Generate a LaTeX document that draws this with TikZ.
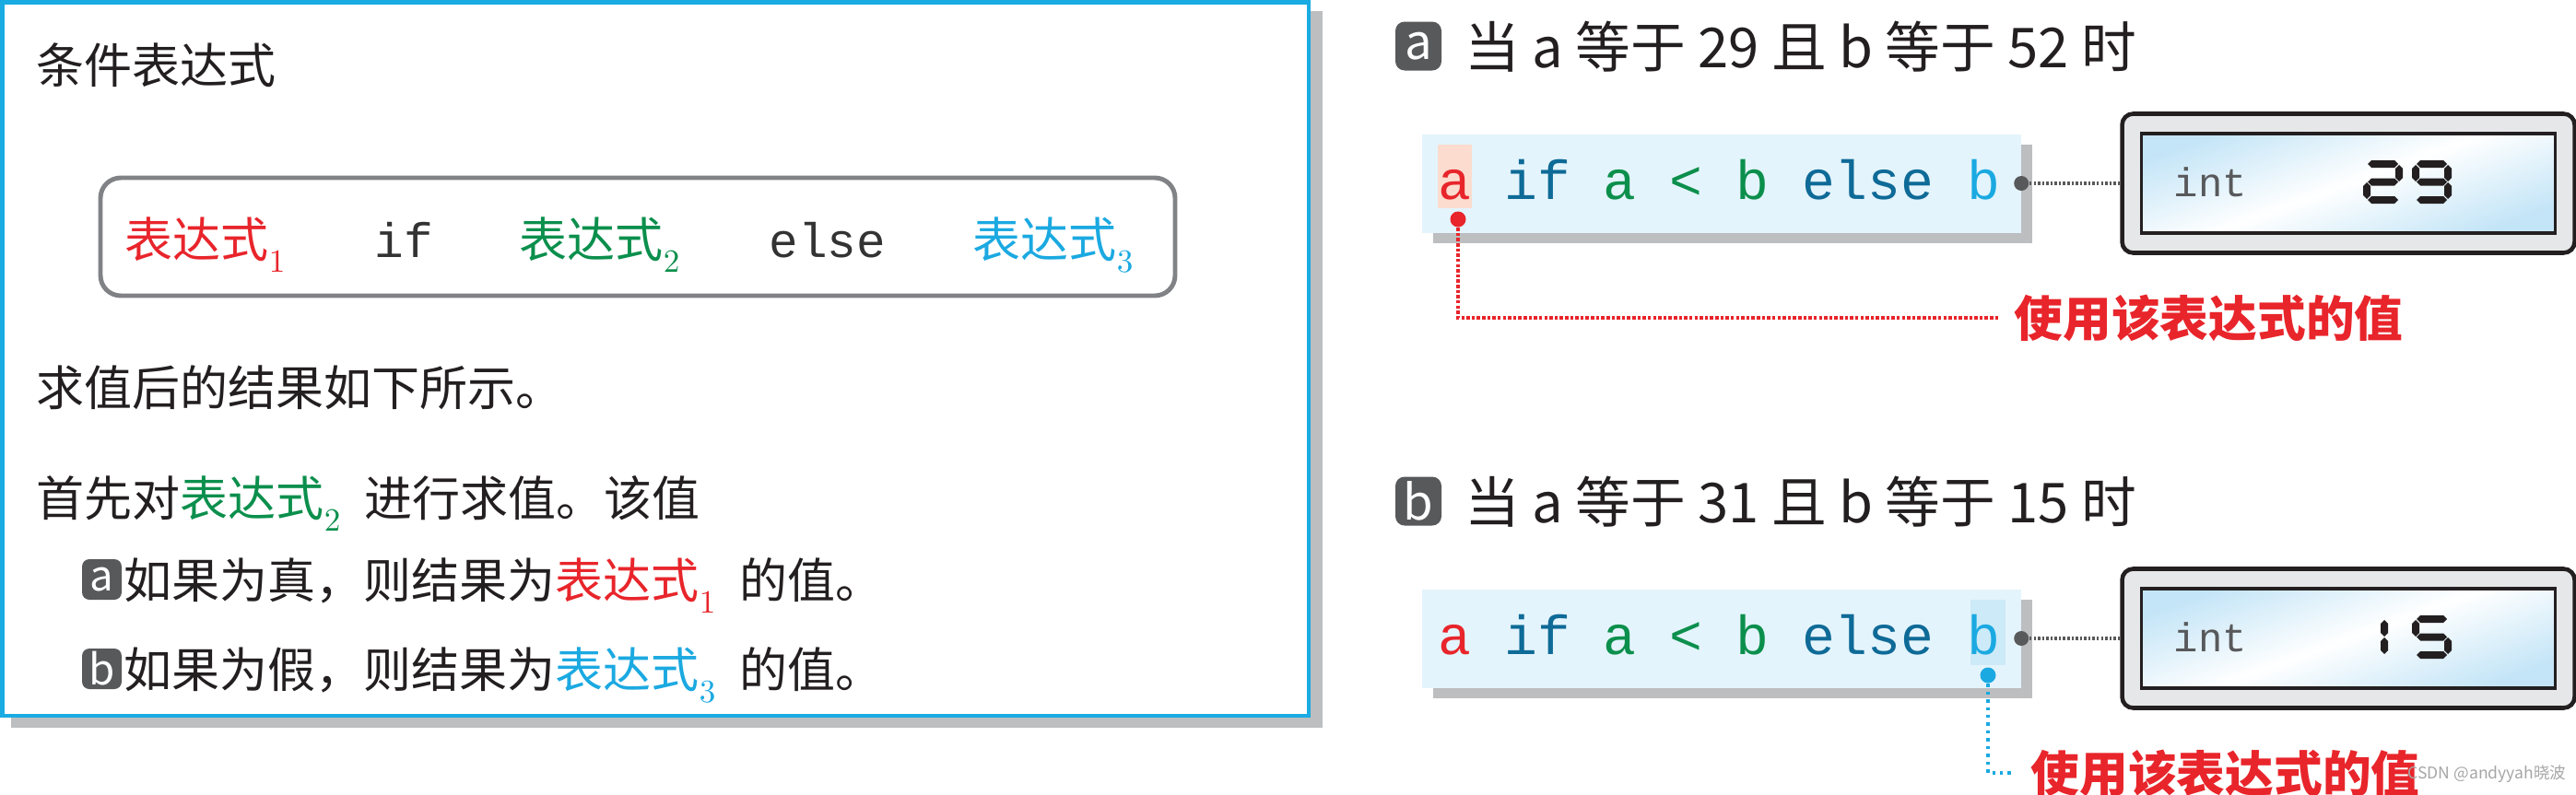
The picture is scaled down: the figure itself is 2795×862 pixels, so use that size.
\documentclass[tikz,border=0pt]{standalone}
\usepackage[no-math]{fontspec}
\setmainfont{Noto Sans CJK SC}
\setmonofont{Liberation Mono}
\usepackage{tikz}
\usetikzlibrary{calc,shadows}
\definecolor{ink}{HTML}{231F20}
\definecolor{panelblue}{HTML}{1AABE2}
\definecolor{shadowgray}{HTML}{BCBEC0}
\definecolor{boxgray}{HTML}{808285}
\definecolor{taggray}{HTML}{58595B}
\definecolor{kwgray}{HTML}{333333}
\definecolor{exred}{HTML}{E8252B}
\definecolor{exgreen}{HTML}{0B8F4C}
\definecolor{excyan}{HTML}{1BA9E1}
\definecolor{kwblue}{HTML}{0E6A97}
\definecolor{codebg}{HTML}{E4F4FC}
\definecolor{pinkhl}{HTML}{FCDCCE}
\definecolor{cyanhl}{HTML}{CDEAF8}
\definecolor{lcdgray}{HTML}{E6E7E8}
\definecolor{lcdblue}{HTML}{C4E5F7}
\tikzset{
  panel/.style={draw=panelblue, line width=1.4pt, fill=white},
  exprbox/.style={draw=boxgray, line width=1.4pt, rounded corners=2.2mm, minimum width=116.6mm, minimum height=12.8mm, inner sep=0},
  txt/.style={anchor=base west, inner sep=0, text=ink, font=\fontsize{14.8}{18}\selectfont},
  kw/.style={anchor=base west, inner sep=0, text=kwgray, font=\ttfamily\fontsize{15}{18}\selectfont},
  head/.style={anchor=base west, inner sep=0, text=ink, font=\fontsize{17}{20}\selectfont},
  tag/.style={fill=taggray, text=white, rounded corners=1mm, inner sep=0, minimum width=5mm, minimum height=5.3mm, font=\fontsize{15}{15}\selectfont},
  tagsm/.style={tag, rounded corners=0.8mm, minimum width=4.3mm, minimum height=4.4mm, font=\fontsize{13}{13}\selectfont},
  codebox/.style={fill=codebg, minimum width=65mm, minimum height=10.7mm, inner sep=0,
    drop shadow={shadow xshift=1.2mm, shadow yshift=-1.1mm, fill=shadowgray, opacity=1}},
  code/.style={anchor=base west, inner sep=0, font=\ttfamily\fontsize{17}{20}\selectfont},
  enddot/.style={circle, fill=taggray, inner sep=0, minimum size=1.6mm},
  pick/.style={circle, inner sep=0, minimum size=1.7mm},
  link/.style={draw=taggray, line width=0.9pt, dash pattern=on 0.7pt off 0.6pt},
  redlink/.style={draw=exred, line width=1.3pt, dash pattern=on 1pt off 0.6pt},
  cyanlink/.style={draw=excyan, line width=1.3pt, dash pattern=on 1pt off 1.4pt},
  uselab/.style={anchor=base west, inner sep=0, text=exred, font=\bfseries\fontsize{15}{18}\selectfont},
  lcdcase/.style={draw=ink, line width=1.3pt, fill=lcdgray, rounded corners=1.2mm, minimum width=49.1mm, minimum height=15.1mm, inner sep=0},
  lcdglass/.style={draw=ink, line width=0.9pt, top color=lcdblue, bottom color=lcdblue, middle color=white, shading angle=20, minimum width=44.9mm, minimum height=10.8mm, inner sep=0},
  lcdtype/.style={anchor=base west, inner sep=0, text=taggray, font=\ttfamily\fontsize{12.5}{14}\selectfont},
  lcdink/.style={fill=ink},
}
\newcommand{\subnum}[1]{\raisebox{-0.32em}{$\scriptstyle #1$}}
% seven-segment pieces, y runs downwards
\newcommand{\lcdsegA}{\fill[lcdink] (5,4) -- (9,0) -- (34,0) -- (38,4) -- (34,8) -- (9,8) -- cycle;}
\newcommand{\lcdsegG}{\fill[lcdink] (5,23.5) -- (9,19.5) -- (34,19.5) -- (38,23.5) -- (34,27.5) -- (9,27.5) -- cycle;}
\newcommand{\lcdsegD}{\fill[lcdink] (5,43) -- (9,39) -- (34,39) -- (38,43) -- (34,47) -- (9,47) -- cycle;}
\newcommand{\lcdsegB}{\fill[lcdink] (39,5) -- (43,9) -- (43,19) -- (39,23) -- (35,19) -- (35,9) -- cycle;}
\newcommand{\lcdsegC}{\fill[lcdink] (39,24) -- (43,28) -- (43,38) -- (39,42) -- (35,38) -- (35,28) -- cycle;}
\newcommand{\lcdsegE}{\fill[lcdink] (4,24) -- (8,28) -- (8,38) -- (4,42) -- (0,38) -- (0,28) -- cycle;}
\newcommand{\lcdsegF}{\fill[lcdink] (4,5) -- (8,9) -- (8,19) -- (4,23) -- (0,19) -- (0,9) -- cycle;}
\newcommand{\lcddigit}[3]{\begin{scope}[shift={(#1,#2)}]\foreach \s in {#3}{\csname lcdseg\s\endcsname}\end{scope}}

\begin{document}
\begin{tikzpicture}[x=0.1mm, y=-0.1mm]
  \useasboundingbox (0,0) rectangle (2795,862);
  % left panel
  \fill[shadowgray] (12,12) rectangle (1435,790);
  \draw[panel] (2.5,2.5) rectangle (1420,777);
  \node[txt] (title) at (39,90) {条件表达式};
  \node[exprbox] (expr) at (692,257) {};
  \node[txt, text=exred] (e1) at (135,279) {表达式\subnum{1}};
  \node[kw] (kwif) at (406,279) {if};
  \node[txt, text=exgreen] (e2) at (563,279) {表达式\subnum{2}};
  \node[kw] (kwelse) at (834,279) {else};
  \node[txt, text=excyan] (e3) at (1055,279) {表达式\subnum{3}};
  \node[txt] (result) at (39,440) {求值后的结果如下所示。};
  \node[txt] (first) at (39,560) {首先对\textcolor{exgreen}{表达式\subnum{2}}\hspace{0.5em}进行求值。该值};
  \node[tagsm] (tagLa) at (110.5,629) {a};
  \node[txt] (caseA) at (134,649) {如果为真，则结果为\textcolor{exred}{表达式\subnum{1}}\hspace{0.5em}的值。};
  \node[tagsm] (tagLb) at (110.5,726) {b};
  \node[txt] (caseB) at (134,746) {如果为假，则结果为\textcolor{excyan}{表达式\subnum{3}}\hspace{0.5em}的值。};

  % case a
  \node[tag] (tagA) at (1539,50) {a};
  \node[head] (headA) at (1589,73) {当 a 等于 29 且 b 等于 52 时};
  \node[codebox] (boxA) at (1867.5,199) {};
  \fill[pinkhl] (1560,157) rectangle (1597,226);
  \node[code] (codeA) at (1560,216) {\textcolor{exred}{a} \textcolor{kwblue}{if} \textcolor{exgreen}{a < b} \textcolor{kwblue}{else} \textcolor{excyan}{b}};
  \node[enddot] (endA) at (boxA.east) {};
  \node[lcdcase] (lcdA) at (2548,199) {};
  \node[lcdglass] (glassA) at (lcdA) {};
  \draw[link] (endA) -- (lcdA.west);
  \node[lcdtype] (typeA) at (2358,213) {int};
  \lcddigit{2564}{174}{A,B,G,E,D}
  \lcddigit{2617}{174}{A,B,C,D,F,G}
  \node[pick, fill=exred] (pickA) at (1582,238) {};
  \node[uselab] (useA) at (2185,365) {使用该表达式的值};
  \draw[redlink] (pickA) |- ($(useA.west)+(-16,0)$);

  % case b
  \node[tag] (tagB) at (1539,544) {b};
  \node[head] (headB) at (1589,567) {当 a 等于 31 且 b 等于 15 时};
  \node[codebox] (boxB) at (1867.5,693) {};
  \fill[cyanhl] (2138,651) rectangle (2176,722);
  \node[code] (codeB) at (1560,710) {\textcolor{exred}{a} \textcolor{kwblue}{if} \textcolor{exgreen}{a < b} \textcolor{kwblue}{else} \textcolor{excyan}{b}};
  \node[enddot] (endB) at (boxB.east) {};
  \node[lcdcase] (lcdB) at (2548,693) {};
  \node[lcdglass] (glassB) at (lcdB) {};
  \draw[link] (endB) -- (lcdB.west);
  \node[lcdtype] (typeB) at (2358,707) {int};
  \lcddigit{2548}{668}{B,C}
  \lcddigit{2617}{668}{A,F,G,C,D}
  \node[pick, fill=excyan] (pickB) at (2157,733) {};
  \node[uselab] (useB) at (2203,859) {使用该表达式的值};
  \draw[cyanlink] (pickB) |- ($(useB.west)+(-20,0)$);

  \node[anchor=base east, inner sep=0, text=gray!70, font=\fontsize{5}{6}\selectfont] (mark) at (2785,845) {CSDN @andyyah晓波};
\end{tikzpicture}
\end{document}
